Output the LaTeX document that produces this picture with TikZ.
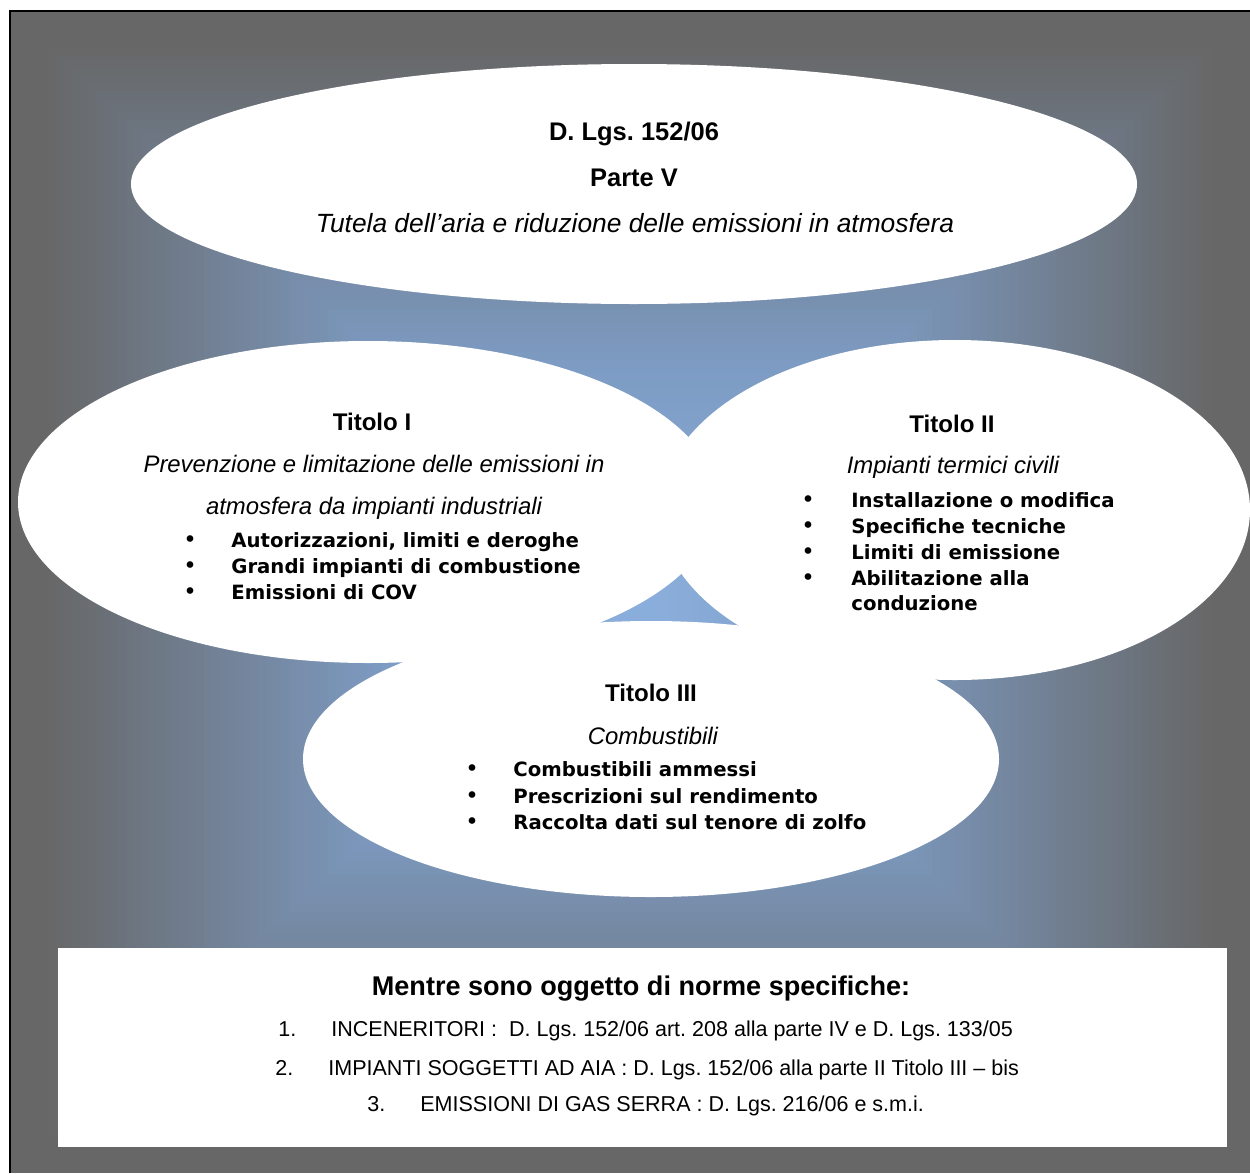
\documentclass[tikz,border=0pt]{standalone}
\usepackage{fontspec}
\setmainfont{Liberation Sans}
\newfontfamily\bulfont{DejaVu Sans}
\usetikzlibrary{shapes.geometric}
\definecolor{bggray}{RGB}{103,103,103}
\definecolor{bgmid}{RGB}{125,155,195}
\definecolor{bgcore}{RGB}{140,176,222}
\newcommand{\fsz}[1]{\fontsize{#1}{#1}\selectfont}
\frenchspacing

\begin{document}
\begin{tikzpicture}[x=0.02cm,y=-0.02cm,inner sep=0pt,
  blob/.style={ellipse,fill=white},
  big/.style={anchor=base,font=\bfseries\fsz{14.5}},
  head/.style={anchor=base,font=\bfseries\fsz{13.7}},
  sub/.style={anchor=base,font=\itshape\fsz{13.6}},
  bul/.style={anchor=base,font=\bulfont\fsz{13}},
  item/.style={anchor=base west,font=\bulfont\bfseries\fsz{11.2}},
  num/.style={anchor=base west,font=\fsz{12.25}}]
\useasboundingbox (0,0) rectangle (1250,1173);
% background
\foreach \i in {0,...,79}{
  \pgfmathsetmacro\t{1-\i/80}
  \pgfmathtruncatemacro\pa{max(0,min(100,100*(0.95-\t)/0.55))}
  \pgfmathtruncatemacro\pb{max(0,min(100,100*(0.40-\t)/0.40))}
  \fill[bgcore!\pb!bgmid!\pa!bggray] ({630-\t*620},{592-\t*581}) rectangle ({630+\t*620},{592+\t*581});
}
\draw[line width=1.2pt] (10,1173) -- (10,11) -- (1250,11);
% ellipses
\node[blob,minimum width={1006*0.02cm},minimum height={240*0.02cm}] (E0) at (634,184) {};
\node[blob,minimum width={700*0.02cm},minimum height={322*0.02cm}] (E1) at (368,502) {};
\node[blob,minimum width={590*0.02cm},minimum height={340*0.02cm}] (E2) at (955,510) {};
\node[blob,minimum width={696*0.02cm},minimum height={276*0.02cm}] (E3) at (651,759) {};
% Parte V
\node[big] (A) at (634,140) {D. Lgs. 152/06};
\node[big] (B) at (634,186) {Parte V};
\node[sub,font=\itshape\fsz{15}] (C) at (635,232) {Tutela dell’aria e riduzione delle emissioni in atmosfera};
% Titolo I
\node[head] (D) at (372,430) {Titolo I};
\node[sub] (D1) at (374,472) {Prevenzione e limitazione delle emissioni in};
\node[sub] (D2) at (374,514) {atmosfera da impianti industriali};
\node[bul] at (190,547) {•};
\node[item] (D3) at (231,547) {Autorizzazioni, limiti e deroghe};
\node[bul] at (190,573) {•};
\node[item] (D4) at (231,573) {Grandi impianti di combustione};
\node[bul] at (190,599) {•};
\node[item] (D5) at (231,599) {Emissioni di COV};
% Titolo II
\node[head] (F) at (952,432) {Titolo II};
\node[sub] (F1) at (953,473) {Impianti termici civili};
\node[bul] at (808,507) {•};
\node[item] (F2) at (851,507) {Installazione o modifica};
\node[bul] at (808,533) {•};
\node[item] (F3) at (851,533) {Specifiche tecniche};
\node[bul] at (808,559) {•};
\node[item] (F4) at (851,559) {Limiti di emissione};
\node[bul] at (808,585) {•};
\node[item] (F5) at (851,585) {Abilitazione alla};
\node[item] (F6) at (851,610) {conduzione};
% Titolo III
\node[head] (G) at (651,701) {Titolo III};
\node[sub] (G1) at (653,744) {Combustibili};
\node[bul] at (472,776) {•};
\node[item] (G2) at (513,776) {Combustibili ammessi};
\node[bul] at (472,803) {•};
\node[item] (G3) at (513,803) {Prescrizioni sul rendimento};
\node[bul] at (472,829) {•};
\node[item] (G4) at (513,829) {Raccolta dati sul tenore di zolfo};
% norme specifiche
\fill[white] (58,948) rectangle (1227,1147);
\node[anchor=base,font=\bfseries\fsz{15.4}] (H) at (641,995) {Mentre sono oggetto di norme specifiche:};
\node[num] at (278,1036) {1.};
\node[num] (H1) at (331,1036) {INCENERITORI :\ \ D. Lgs. 152/06 art. 208 alla parte IV e D. Lgs. 133/05};
\node[num] at (275,1075) {2.};
\node[num] (H2) at (328,1075) {IMPIANTI SOGGETTI AD AIA : D. Lgs. 152/06 alla parte II Titolo III – bis};
\node[num] at (367,1111) {3.};
\node[num] (H3) at (420,1111) {EMISSIONI DI GAS SERRA : D. Lgs. 216/06 e s.m.i.};
\end{tikzpicture}
\end{document}
